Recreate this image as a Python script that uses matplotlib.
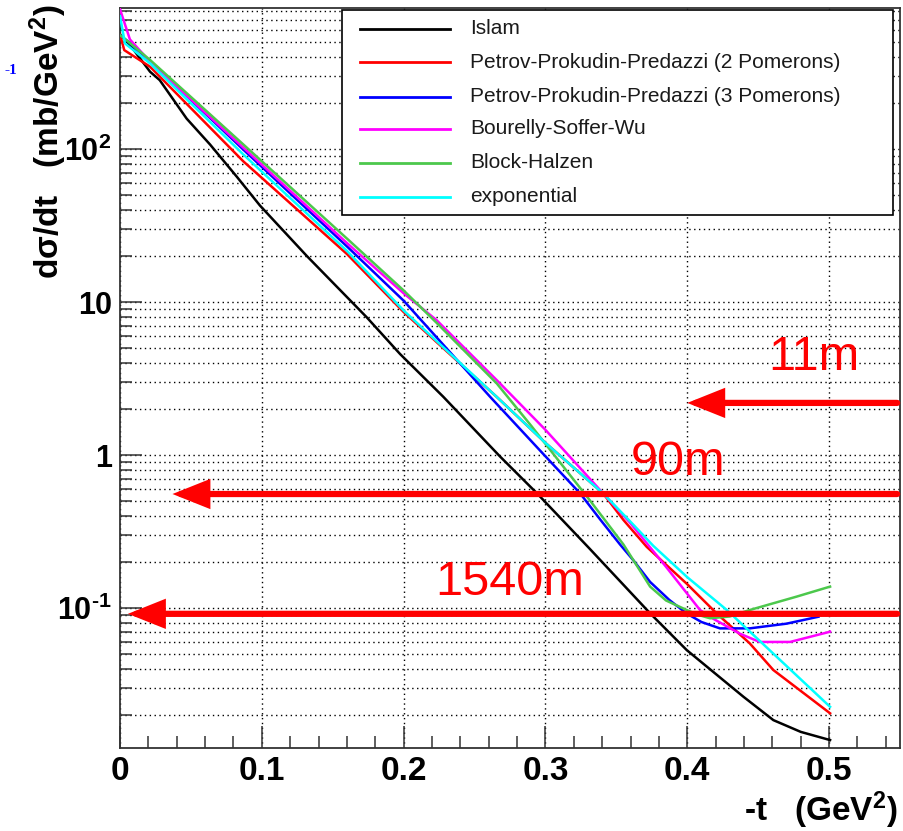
import matplotlib
matplotlib.use('Agg')
import matplotlib.pyplot as plt
from matplotlib.ticker import FixedLocator, FixedFormatter, MultipleLocator, LogLocator, NullFormatter
from matplotlib.lines import Line2D
from matplotlib.patches import Rectangle

plt.rcParams['font.family'] = ['Liberation Sans', 'DejaVu Sans']
plt.rcParams['mathtext.fontset'] = 'custom'
plt.rcParams['mathtext.rm'] = 'Liberation Sans'
plt.rcParams['mathtext.bf'] = 'Liberation Sans:bold'
plt.rcParams['mathtext.it'] = 'Liberation Sans:italic'

# ---- curves: -t (GeV^2) vs dsigma/dt (mb/GeV^2)
islam_t = [0, 0.007, 0.0212, 0.028, 0.047, 0.0635, 0.0823, 0.0987, 0.1317, 0.174, 0.1975,
           0.228, 0.268, 0.294, 0.331, 0.3738, 0.3996, 0.4396, 0.4607, 0.480, 0.5007]
islam_v = [560, 479, 320, 282, 158, 107, 66, 42.7, 20, 7.94, 4.57,
           2.40, 0.977, 0.562, 0.245, 0.0923, 0.0531, 0.0263, 0.0185, 0.0155, 0.0137]

ppp2_t = [0, 0.003, 0.0212, 0.087, 0.16, 0.2, 0.2656, 0.30, 0.3406, 0.355, 0.3714,
          0.40, 0.4208, 0.444, 0.4607, 0.5007]
ppp2_v = [560, 443, 345, 83, 20.6, 8.6, 2.40, 1.2, 0.562, 0.376, 0.251,
          0.143, 0.092, 0.0588, 0.0393, 0.0205]

ppp3_t = [0, 0.0047, 0.0212, 0.087, 0.16, 0.2, 0.261, 0.30, 0.3244, 0.3385, 0.3526,
          0.362, 0.3738, 0.3873, 0.3996, 0.41, 0.423, 0.444, 0.47, 0.4925]
ppp3_v = [555, 513, 375, 99, 23.1, 10.2, 2.4, 0.98, 0.562, 0.38, 0.26,
          0.205, 0.148, 0.113, 0.092, 0.081, 0.0736, 0.0736, 0.079, 0.0877]

bsw_t = [0, 0.007, 0.0212, 0.087, 0.16, 0.2, 0.2233, 0.2656, 0.30, 0.3406, 0.3597,
         0.385, 0.409, 0.4184, 0.437, 0.451, 0.4725, 0.5007]
bsw_v = [820, 520, 372, 102, 24.3, 11.4, 7.6, 3.09, 1.46, 0.562, 0.36,
         0.186, 0.097, 0.085, 0.068, 0.060, 0.060, 0.070]

bh_t = [0, 0.0047, 0.0212, 0.087, 0.16, 0.2, 0.2233, 0.2656, 0.29, 0.331, 0.355,
        0.3738, 0.385, 0.3996, 0.408, 0.416, 0.43, 0.444, 0.477, 0.5007]
bh_v = [555, 513, 382, 107, 26, 11.9, 7.3, 2.94, 1.55, 0.51, 0.26,
        0.138, 0.112, 0.097, 0.090, 0.0857, 0.088, 0.097, 0.1186, 0.138]

expo_t = [0, 0.0035, 0.0212, 0.087, 0.16, 0.2, 0.2656, 0.30, 0.3406, 0.362, 0.376,
          0.40, 0.4279, 0.46, 0.5007]
expo_v = [740, 490, 363, 92, 21.6, 8.8, 2.40, 1.2, 0.562, 0.35, 0.255,
          0.159, 0.097, 0.051, 0.0226]

labels = ['Islam', 'Petrov-Prokudin-Predazzi (2 Pomerons)', 'Petrov-Prokudin-Predazzi (3 Pomerons)',
          'Bourelly-Soffer-Wu', 'Block-Halzen', 'exponential']
colors = ['black', '#ff0000', '#0000ff', '#ff00ff', '#4cc84c', '#00ffff']

# acceptance limits for the beta* optics
arrow_names = ['11m', '90m', '1540m']
arrow_y = [2.19, 0.556, 0.0916]
arrow_tip = [0.40, 0.037, 0.0056]
arrow_tail = [0.548, 0.548, 0.548]
name_x = [0.457, 0.36, 0.222]
name_y = [3.59, 0.744, 0.1216]

W, H = 904, 831
fig = plt.figure(figsize=(W / 100, H / 100), dpi=100)
ax = fig.add_axes([120 / W, 1 - 748 / H, 780 / W, 740 / H])
ax.set_yscale('log')
ax.set_xlim(0, 0.55)
ax.set_ylim(0.01216, 835)

series = [(islam_t, islam_v), (ppp2_t, ppp2_v), (ppp3_t, ppp3_v),
          (bsw_t, bsw_v), (bh_t, bh_v), (expo_t, expo_v)]
for (t, v), c in zip(series, colors):
    ax.plot(t, v, color=c, lw=1.8, zorder=3)

for yv, x0, x1 in zip(arrow_y, arrow_tip, arrow_tail):
    ax.annotate('', xy=(x0, yv), xytext=(x1, yv),
                arrowprops=dict(arrowstyle='-|>,head_length=0.95,head_width=0.38',
                                color='#ff0000', lw=4.5, shrinkA=0, shrinkB=0,
                                mutation_scale=20, joinstyle='miter'),
                zorder=5)
for nm, xx, yy in zip(arrow_names, name_x, name_y):
    ax.text(xx, yy, nm, color='#ff0000', fontsize=35, ha='left', va='baseline', zorder=6)

# axes, ticks, grid
ax.xaxis.set_major_locator(FixedLocator([0, 0.1, 0.2, 0.3, 0.4, 0.5]))
ax.xaxis.set_minor_locator(MultipleLocator(0.02))
ax.xaxis.set_major_formatter(FixedFormatter(['0', '0.1', '0.2', '0.3', '0.4', '0.5']))
ax.yaxis.set_major_locator(FixedLocator([0.1, 1, 10, 100]))
ax.yaxis.set_major_formatter(FixedFormatter(['$\\mathbf{10}^{\\mathbf{\u20101}}$', '1', '10',
                                             r'$\mathbf{10}^{\mathbf{2}}$']))
ax.yaxis.set_minor_locator(LogLocator(base=10, subs=[2, 3, 4, 5, 6, 7, 8, 9], numticks=20))
ax.yaxis.set_minor_formatter(NullFormatter())
ax.tick_params(which='both', direction='in', top=False, right=False, width=1.1, color='#333333')
ax.tick_params(which='major', length=16)
ax.tick_params(which='minor', length=8.5)
ax.tick_params(axis='x', labelsize=24, pad=6)
ax.tick_params(axis='y', labelsize=22, pad=6)
for lab in ax.get_xticklabels() + ax.get_yticklabels():
    lab.set_fontweight('bold')
for sp in ax.spines.values():
    sp.set_linewidth(1.3)
    sp.set_color('#333333')

ax.grid(which='major', axis='x', color='black', ls=(0, (1, 2.5)), lw=1.0)
ax.grid(which='both', axis='y', color='black', ls=(0, (1, 2.5)), lw=1.0)

# legend box drawn by hand to match the original layout
fig.patches.append(Rectangle((342 / W, 1 - 215 / H), 551 / W, 205 / H, transform=fig.transFigure,
                             facecolor='white', edgecolor='black', lw=1.2, zorder=10))
row_y = [29, 62, 97, 129, 163, 197]
for ry, lab, c in zip(row_y, labels, colors):
    fig.lines.append(Line2D([360 / W, 450 / W], [1 - ry / H, 1 - ry / H], transform=fig.transFigure,
                            color=c, lw=2, zorder=11))
    fig.text(470 / W, 1 - ry / H, lab, fontsize=15, color='#1a1a1a', va='center', ha='left', zorder=12)

fig.text(48 / W, 1 - 4 / H, r'd$\mathbf{\sigma}$/dt   (mb/GeV$^{\mathbf{2}}$)', rotation=90,
         fontsize=24, fontweight='bold', ha='center', va='top')
fig.text(898 / W, 1 - 821 / H, r'-t   (GeV$^{\mathbf{2}}$)', fontsize=24, fontweight='bold',
         ha='right', va='baseline')
fig.text(5 / W, 1 - 70 / H, '-1', color='blue', fontsize=11, fontweight='bold',
         family='Liberation Serif', va='center', ha='left')

fig.savefig('out.png', dpi=100)
